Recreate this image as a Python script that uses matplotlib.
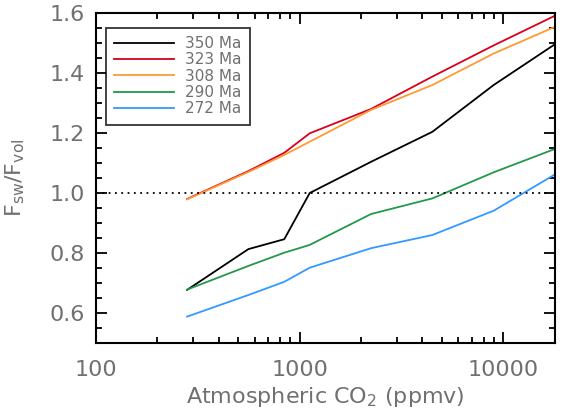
import numpy as np
import matplotlib
matplotlib.use('Agg')
import matplotlib.pyplot as plt
from matplotlib.ticker import LogLocator, MultipleLocator, FixedLocator, FixedFormatter, NullFormatter

# CO2 levels (multiples of 280 ppmv)
co2 = [280, 560, 840, 1120, 2240, 4480, 8960, 17920]

# F_sw / F_vol for each time slice
ma350 = [0.677, 0.813, 0.846, 1.000, 1.104, 1.204, 1.360, 1.496]
ma323 = [0.980, 1.073, 1.134, 1.199, 1.280, 1.388, 1.492, 1.591]
ma308 = [0.979, 1.070, 1.127, 1.171, 1.277, 1.360, 1.465, 1.554]
ma290 = [0.678, 0.757, 0.801, 0.827, 0.930, 0.982, 1.069, 1.147]
ma272 = [0.588, 0.660, 0.704, 0.751, 0.816, 0.860, 0.941, 1.062]

labels = ['350 Ma', '323 Ma', '308 Ma', '290 Ma', '272 Ma']
colors = ['#000000', '#d9001b', '#ff9933', '#22994a', '#3399ff']
xticks = [100, 1000, 10000]
xticklabels = ['100', '1000', '10000']
yticks = [0.6, 0.8, 1.0, 1.2, 1.4, 1.6]
yticklabels = ['0.6', '0.8', '1.0', '1.2', '1.4', '1.6']

gray = '#707070'

fig = plt.figure(figsize=(5.63, 4.18), dpi=100)
ax = fig.add_axes([0.1705, 0.1794, 0.8153, 0.7895])

for y, lab, c in zip([ma350, ma323, ma308, ma290, ma272], labels, colors):
    ax.plot(co2, y, color=c, lw=1.3, label=lab)

ax.axhline(1.0, color='k', ls=(0, (1, 2.5)), lw=1.3)

ax.set_xscale('log')
ax.set_xlim(100, 17920)
ax.set_ylim(0.5, 1.6)

ax.xaxis.set_major_locator(FixedLocator(xticks))
ax.xaxis.set_major_formatter(FixedFormatter(xticklabels))
ax.xaxis.set_minor_locator(LogLocator(base=10, subs=np.arange(2, 10)))
ax.xaxis.set_minor_formatter(NullFormatter())
ax.yaxis.set_minor_locator(MultipleLocator(0.05))
ax.set_yticks(yticks)
ax.set_yticklabels(yticklabels)

ax.tick_params(which='both', direction='in', top=True, right=True,
               width=1.3, colors='k', labelcolor=gray, labelsize=16)
ax.tick_params(which='major', length=8)
ax.tick_params(which='minor', length=4)
ax.tick_params(axis='x', which='major', pad=12)
ax.tick_params(axis='y', which='major', pad=8)
for s in ax.spines.values():
    s.set_linewidth(1.5)

ax.set_xlabel(r'Atmospheric CO$_{\rm 2}$ (ppmv)', fontsize=16, color=gray, labelpad=4)
ax.set_ylabel(r'F$_{\rm sw}$/F$_{\rm vol}$', fontsize=16, color=gray, labelpad=16)

leg = ax.legend(loc='upper left', bbox_to_anchor=(0.022, 0.955), fontsize=11,
                frameon=True, fancybox=False, edgecolor='k', handlelength=3.9,
                handletextpad=0.7, labelspacing=0.08, borderpad=0.55,
                borderaxespad=0)
leg.get_frame().set_linewidth(1.3)
for t in leg.get_texts():
    t.set_color(gray)

fig.savefig('out.png', dpi=100)
